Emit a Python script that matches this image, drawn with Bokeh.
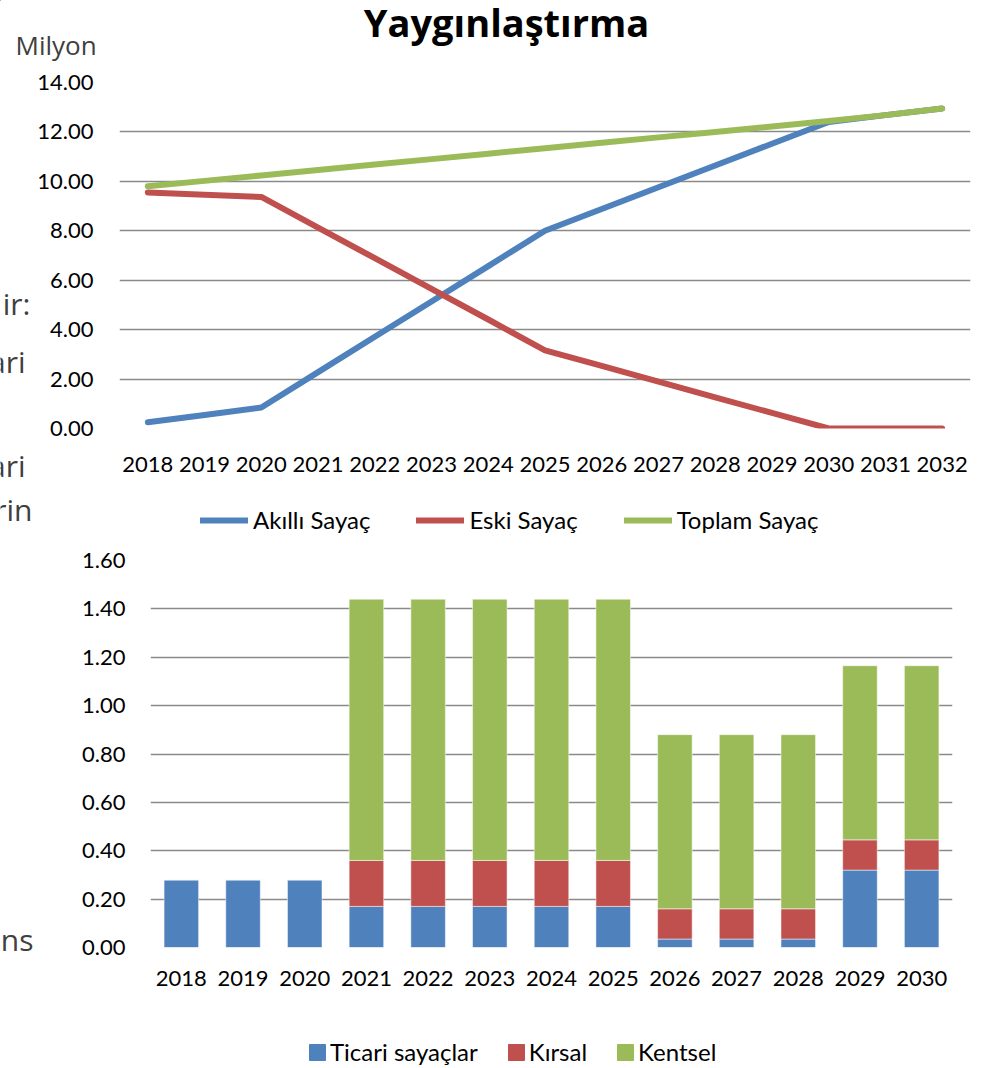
from bokeh.plotting import figure
from bokeh.models import (FactorRange, Range1d, NumeralTickFormatter, Legend,
                          LegendItem, Label, ColumnDataSource, FixedTicker)
from bokeh.embed import file_html
from bokeh.resources import INLINE

# ---------------- data ----------------
years_top = ["2018", "2019", "2020", "2021", "2022", "2023", "2024", "2025",
             "2026", "2027", "2028", "2029", "2030", "2031", "2032"]
akilli_sayac = [0.25, 0.55, 0.85, 2.28, 3.71, 5.14, 6.57, 8.00,
                8.88, 9.76, 10.64, 11.52, 12.40, 12.68, 12.95]
eski_sayac = [9.55, 9.46, 9.37, 8.13, 6.89, 5.65, 4.41, 3.16,
              2.53, 1.90, 1.26, 0.63, 0.00, 0.00, 0.00]
toplam_sayac = [9.80, 10.02, 10.24, 10.46, 10.68, 10.90, 11.12, 11.34,
                11.56, 11.78, 12.00, 12.22, 12.44, 12.68, 12.95]
top_ticks = [0, 2, 4, 6, 8, 10, 12, 14]

years_bot = ["2018", "2019", "2020", "2021", "2022", "2023", "2024",
             "2025", "2026", "2027", "2028", "2029", "2030"]
ticari = [0.28, 0.28, 0.28, 0.17, 0.17, 0.17, 0.17, 0.17, 0.035, 0.035, 0.035, 0.32, 0.32]
kirsal = [0.0, 0.0, 0.0, 0.19, 0.19, 0.19, 0.19, 0.19, 0.125, 0.125, 0.125, 0.125, 0.125]
kentsel = [0.0, 0.0, 0.0, 1.08, 1.08, 1.08, 1.08, 1.08, 0.72, 0.72, 0.72, 0.72, 0.72]
bot_ticks = [0, 0.2, 0.4, 0.6, 0.8, 1.0, 1.2, 1.4, 1.6]

title_text = "Yaygınlaştırma"
unit_text = "Milyon"
line_labels = ["Akıllı Sayaç", "Eski Sayaç", "Toplam Sayaç"]
bar_labels = ["Ticari sayaçlar", "Kırsal", "Kentsel"]
side_fragments = ["ir:", "ari", "ari", "rin", "ns"]

BLUE = "#4f81bd"
RED = "#c0504d"
GREEN = "#9bbb59"
GRID = "#8a8a8a"
FONT = "Lato"
SIDE_FONT = "Open Sans"
SIDE_COLOR = "#404040"


def style(p):
    p.outline_line_color = None
    p.xgrid.visible = False
    p.ygrid.grid_line_color = GRID
    p.ygrid.grid_line_width = 1.5
    for ax in (p.xaxis, p.yaxis):
        ax.axis_line_color = None
        ax.major_tick_line_color = None
        ax.minor_tick_line_color = None
        ax.major_tick_out = 0
        ax.major_tick_in = 0
        ax.minor_tick_out = 0
        ax.minor_tick_in = 0
        ax.major_label_text_font = FONT
        ax.major_label_text_font_size = "22px"
        ax.major_label_text_color = "#000000"
    p.background_fill_color = "white"
    p.border_fill_color = "white"


# ---------------- top chart ----------------
src1 = ColumnDataSource(dict(year=years_top, akilli=akilli_sayac,
                             eski=eski_sayac, toplam=toplam_sayac))
p1 = figure(width=992, height=545, x_range=FactorRange(factors=years_top),
            y_range=Range1d(0, 14), output_backend="svg", toolbar_location=None,
            min_border_left=119, min_border_right=22, min_border_top=82,
            min_border_bottom=117)
style(p1)
p1.yaxis.ticker = FixedTicker(ticks=top_ticks)
p1.yaxis.formatter = NumeralTickFormatter(format="0.00")
p1.yaxis.major_label_standoff = 26
p1.xaxis.major_label_standoff = 28
p1.styles = {"position": "absolute", "top": "0px", "left": "0px"}

line_colors = [BLUE, RED, GREEN]
for col, c in zip(["akilli", "eski", "toplam"], line_colors):
    p1.line("year", col, source=src1, line_width=6, line_color=c,
            line_cap="round", line_join="round")

# ---------------- bottom chart ----------------
src2 = ColumnDataSource(dict(year=years_bot, ticari=ticari, kirsal=kirsal,
                             kentsel=kentsel))
p2 = figure(width=992, height=523, x_range=FactorRange(factors=years_bot),
            y_range=Range1d(0, 1.6), output_backend="svg", toolbar_location=None,
            min_border_left=150, min_border_right=40, min_border_top=15,
            min_border_bottom=121)
style(p2)
p2.yaxis.ticker = FixedTicker(ticks=bot_ticks)
p2.yaxis.formatter = NumeralTickFormatter(format="0.00")
p2.yaxis.major_label_standoff = 25
p2.xaxis.major_label_standoff = 23
p2.styles = {"position": "absolute", "top": "545px", "left": "0px"}

bar_colors = [BLUE, RED, GREEN]
p2.vbar_stack(["ticari", "kirsal", "kentsel"], x="year", width=0.56,
              color=bar_colors, source=src2,
              line_color="white", line_alpha=0.5, line_width=1)

# ---------------- overlay: titles, legends, slide fragments ----------------
ov = figure(width=992, height=1068, x_range=Range1d(0, 992),
            y_range=Range1d(1068, 0), output_backend="svg",
            toolbar_location=None, title=None, x_axis_type=None,
            y_axis_type=None, min_border=0)
ov.outline_line_color = None
ov.background_fill_alpha = 0
ov.border_fill_alpha = 0
ov.styles = {"position": "absolute", "top": "0px", "left": "0px",
             "z-index": "5", "pointer-events": "none"}

ov.add_layout(Label(x=506, y=21, text=title_text, text_font="Open Sans",
                    text_font_style="bold", text_font_size="38px",
                    text_align="center", text_baseline="alphabetic",
                    text_color="#000000"))
ov.add_layout(Label(x=15, y=44, text=unit_text, text_font=SIDE_FONT,
                    text_font_size="26px", text_align="left",
                    text_baseline="alphabetic", text_color=SIDE_COLOR))
for txt, sx, sy in zip(side_fragments, [30, 25, 25, 32, 33],
                       [303, 361, 465, 509, 939]):
    ov.add_layout(Label(x=sx, y=sy, text=txt, text_font=SIDE_FONT,
                        text_font_size="30px", text_align="right",
                        text_baseline="alphabetic", text_color=SIDE_COLOR))

# legend proxies: drawn off-canvas, only their legend swatches show
line_items = []
for lab, c in zip(line_labels, line_colors):
    r = ov.line(x=[-60, -40], y=[-60, -60], line_width=6, line_color=c,
                line_cap="round")
    line_items.append(LegendItem(label=lab, renderers=[r]))
ov.add_layout(Legend(items=line_items, orientation="horizontal",
                     location=(200, 534), glyph_width=48, glyph_height=26,
                     label_height=26, label_standoff=5, spacing=46,
                     padding=0, margin=0, border_line_color=None,
                     background_fill_alpha=0, label_text_font=FONT,
                     label_text_font_size="24px", label_text_color="#000000"))

bar_items = []
for lab, c in zip(bar_labels, bar_colors):
    r = ov.vbar(x=[-50], top=[-60], bottom=[-50], width=5, color=c)
    bar_items.append(LegendItem(label=lab, renderers=[r]))
ov.add_layout(Legend(items=bar_items, orientation="horizontal",
                     location=(307, 2), glyph_width=20, glyph_height=20,
                     label_height=26, label_standoff=3, spacing=28,
                     padding=0, margin=0, border_line_color=None,
                     background_fill_alpha=0, label_text_font=FONT,
                     label_text_font_size="24px", label_text_color="#000000"))

open("out.html", "w").write(file_html([p1, p2, ov], INLINE))
